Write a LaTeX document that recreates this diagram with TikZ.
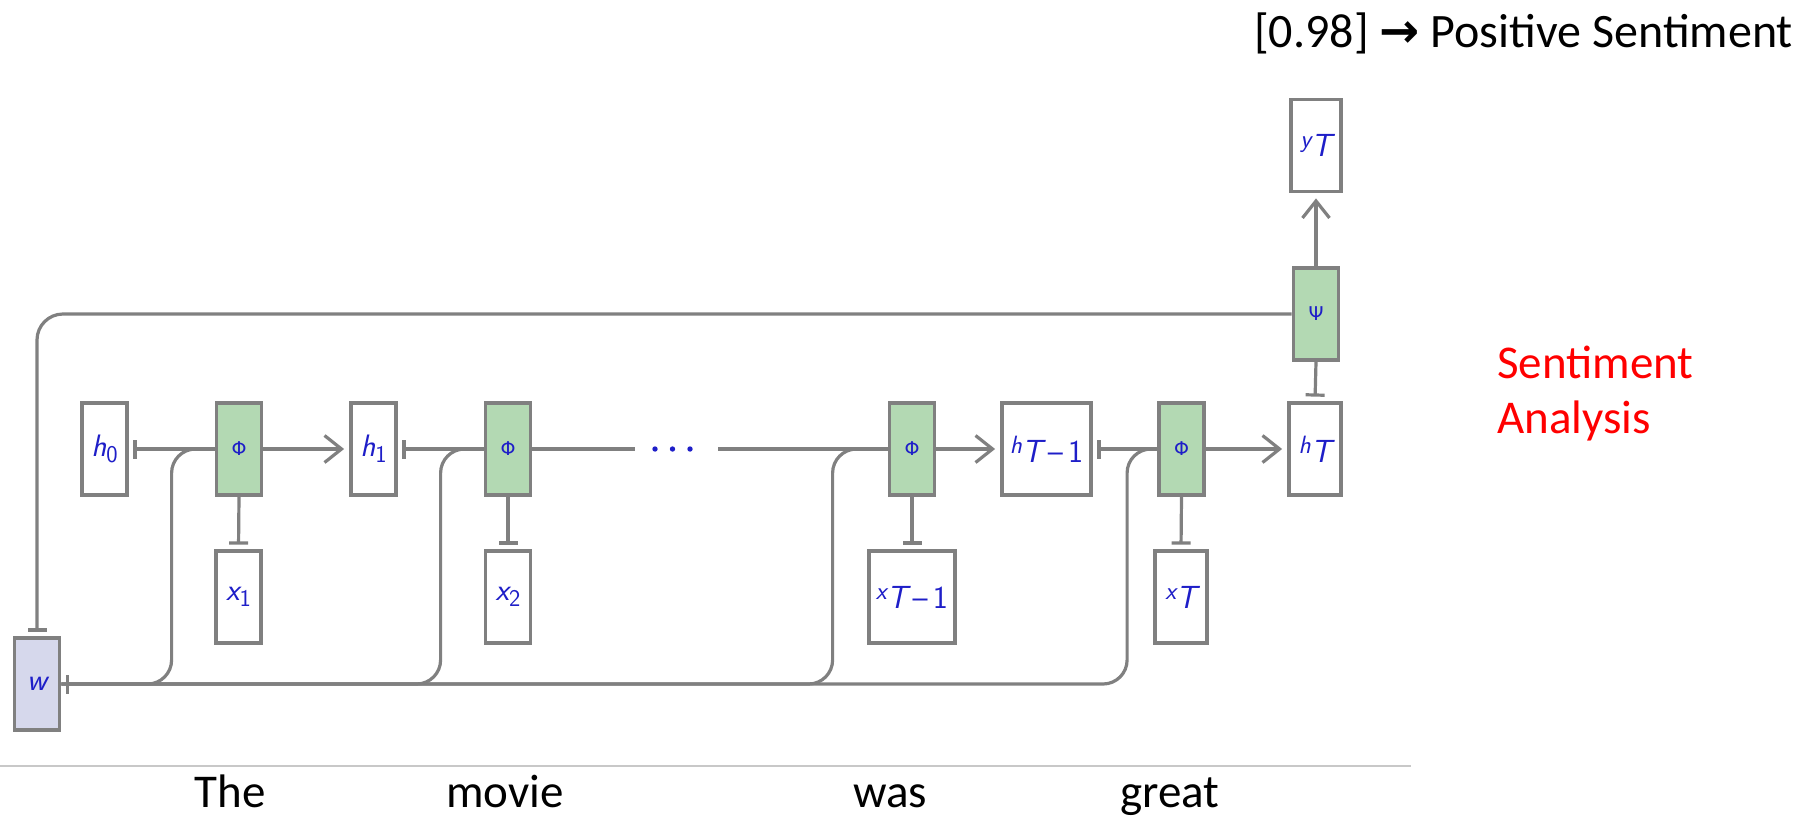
\documentclass[tikz,border=0pt]{standalone}
\usepackage{fontspec}
\setmainfont{Carlito}
\newfontfamily\dejavu{DejaVu Sans}
\usetikzlibrary{arrows.meta}
\definecolor{boxgray}{RGB}{128,128,128}
\definecolor{phigreen}{RGB}{179,217,179}
\definecolor{wlav}{RGB}{214,216,236}
\definecolor{lblue}{RGB}{30,30,200}
\definecolor{sepgray}{RGB}{200,200,200}
\newcommand\lblfont{\fontsize{31}{31}\selectfont\sffamily}
\newcommand\subl[2]{{\itshape #1}\raisebox{-6pt}{\fontsize{24}{24}\selectfont #2}}
\newcommand\supl[2]{\raisebox{3pt}{\fontsize{25}{25}\selectfont\itshape #1}\raisebox{-6pt}{\fontsize{32}{32}\selectfont #2}}
\newcommand\grk[1]{{\dejavu\fontsize{19}{19}\selectfont #1}}
\tikzset{
  box/.style={draw=boxgray, line width=3.8pt, fill=white, inner sep=0pt,
    minimum width=45pt, minimum height=92pt, text=lblue, font=\lblfont},
  phibox/.style={box, fill=phigreen},
  wbox/.style={box, fill=wlav},
  conn/.style={draw=boxgray, line width=3.2pt},
  tbar/.style={conn, -{Bar[width=19pt]}, shorten >=4.5pt},
  arr/.style={conn, -{Straight Barb[length=17pt,width=27pt]}, shorten >=5pt},
  word/.style={font=\fontsize{47}{56}\selectfont, inner sep=0pt, anchor=base},
}
\begin{document}
\begin{tikzpicture}[x=1pt,y=-1pt]
\useasboundingbox (0,0) rectangle (1810,817);
% nodes
\node[box] (h0) at (104.5,449) {\subl{h}{0}};
\node[phibox] (phi1) at (239,449) {\grk{Φ}};
\node[box] (h1) at (373.5,449) {\subl{h}{1}};
\node[phibox] (phi2) at (508,449) {\grk{Φ}};
\node[phibox] (phiTm1) at (912,449) {\grk{Φ}};
\node[box, minimum width=89pt] (hTm1) at (1046.5,449) {\supl{h}{{\itshape T}\,–\,1}};
\node[phibox] (phiT) at (1181.5,449) {\grk{Φ}};
\node[box, minimum width=52pt] (hT) at (1315,449) {\supl{h}{\itshape T}};
\node[phibox] (psi) at (1316,314) {\grk{Ψ}};
\node[box, minimum width=50pt] (yT) at (1316,145.5) {\supl{y}{\itshape T}};
\node[box] (x1) at (238.5,597) {\subl{x}{1}};
\node[box] (x2) at (508,597) {\subl{x}{2}};
\node[box, minimum width=86pt] (xTm1) at (912,597) {\supl{x}{{\itshape T}\,–\,1}};
\node[box, minimum width=52pt] (xT) at (1181,597) {\supl{x}{\itshape T}};
\node[wbox] (w) at (37,684) {{\itshape w}};
% recurrent chain
\draw[tbar] (phi1.west) -- (h0.east);
\draw[arr] (phi1.east) -- (h1.west);
\draw[tbar] (phi2.west) -- (h1.east);
\coordinate (d1) at (635,449);
\coordinate (d2) at (718,449);
\draw[conn] (phi2.east) -- (d1);
\draw[conn] (d2) -- (phiTm1.west);
\fill[lblue] (655,449) circle (2.7) (672.5,449) circle (2.7) (690,449) circle (2.7);
\draw[arr] (phiTm1.east) -- (hTm1.west);
\draw[tbar] (phiT.west) -- (hTm1.east);
\draw[arr] (phiT.east) -- (hT.west);
\draw[tbar] (psi.south) -- (hT.north);
\draw[arr] (psi.north) -- (yT.south);
% inputs
\draw[tbar] (phi1.south) -- (x1.north);
\draw[tbar] (phi2.south) -- (x2.north);
\draw[tbar] (phiTm1.south) -- (xTm1.north);
\draw[tbar] (phiT.south) -- (xT.north);
% weights
\draw[tbar, rounded corners=26pt] (psi.west) -| (w.north);
\draw[conn, rounded corners=24pt] (phi1.west) -- ++(-43,0) |- (w.east);
\draw[conn, rounded corners=24pt] (phi2.west) -- ++(-43,0) |- (w.east);
\draw[conn, rounded corners=24pt] (phiTm1.west) -- ++(-55,0) |- (w.east);
\draw[tbar, rounded corners=24pt] (phiT.west) -- ++(-30,0) |- (w.east);
% texts
\node[anchor=base west, inner sep=0pt, font=\fontsize{48}{58}\selectfont] (res) at (1254,47) {[0.98] {\dejavu\bfseries →} Positive Sentiment};
\node[anchor=base west, inner sep=0pt, align=left, text=red, font=\fontsize{47}{55}\selectfont] (sa) at (1497,433) {Sentiment\\Analysis};
\draw[sepgray, line width=1.5pt] (0,766) -- (1411,766);
\node[word] (wThe) at (230,807) {The};
\node[word] (wMovie) at (505,807) {movie};
\node[word] (wWas) at (890,807) {was};
\node[word] (wGreat) at (1170,807) {great};
\end{tikzpicture}
\end{document}
